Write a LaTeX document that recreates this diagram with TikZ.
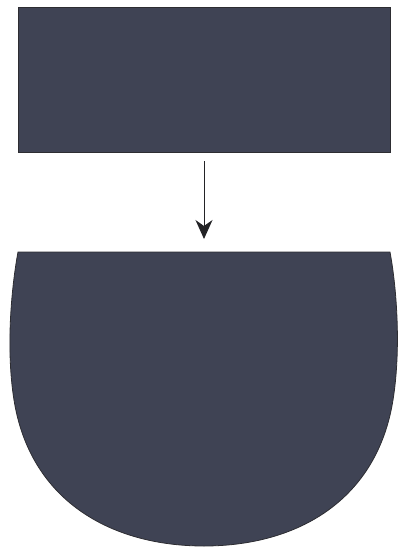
\documentclass[tikz,border=0pt]{standalone}
\usetikzlibrary{arrows.meta}
\definecolor{slate}{RGB}{63,67,84}
\definecolor{edge}{RGB}{45,45,50}
\definecolor{arrowc}{RGB}{35,35,38}
\begin{document}
\begin{tikzpicture}[x=1pt,y=-1pt,
  shapefill/.style={fill=slate,draw=edge,line width=0.8pt},
  flowarrow/.style={draw=arrowc,line width=1pt,-{Stealth[length=19pt,width=17pt,inset=6pt]}}]
\useasboundingbox (0,0) rectangle (403,547);
\node[shapefill,minimum width=372pt,minimum height=145pt,inner sep=0pt,anchor=north west] (top) at (18,7) {};
\coordinate (a1) at (204,161);
\coordinate (a2) at (204,239);
\draw[shapefill] (18,252) -- (390,252)
  .. controls (397,290) and (401,350) .. (393,400)
  .. controls (377,500) and (298,546) .. (204,546)
  .. controls (110,546) and (30,500) .. (14,400)
  .. controls (6,350) and (11,290) .. (18,252) -- cycle;
\draw[flowarrow] (a1) -- (a2);
\end{tikzpicture}
\end{document}
